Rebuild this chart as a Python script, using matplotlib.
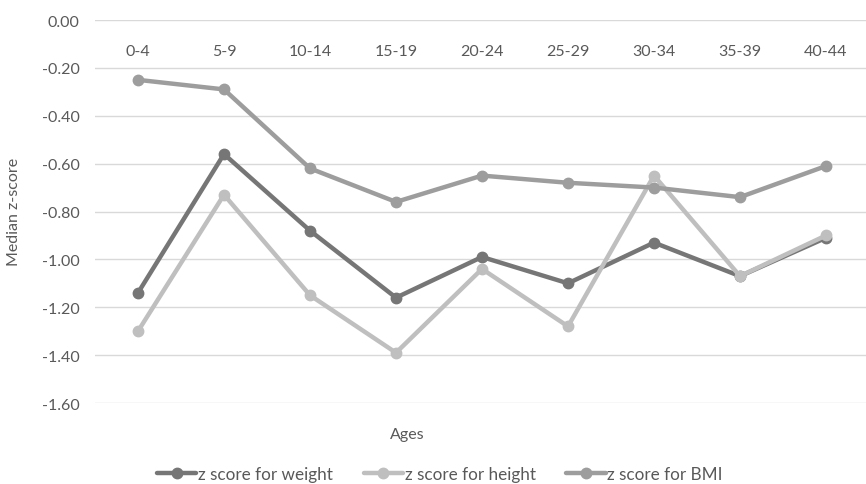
import matplotlib
matplotlib.use("Agg")
import matplotlib.pyplot as plt

categories = ["0-4", "5-9", "10-14", "15-19", "20-24", "25-29", "30-34", "35-39", "40-44"]
weight = [-1.14, -0.56, -0.88, -1.16, -0.99, -1.10, -0.93, -1.07, -0.91]
height = [-1.30, -0.73, -1.15, -1.39, -1.04, -1.28, -0.65, -1.07, -0.90]
bmi = [-0.25, -0.29, -0.62, -0.76, -0.65, -0.68, -0.70, -0.74, -0.61]
yticks = [0.0, -0.2, -0.4, -0.6, -0.8, -1.0, -1.2, -1.4, -1.6]

plt.rcParams['font.family'] = ['Lato', 'DejaVu Sans']
W, H = 866, 485
fig = plt.figure(figsize=(W / 100, H / 100), dpi=100)
x0, x1 = 95, 869
ytop, ybot = 21, 404
ax = fig.add_axes([x0 / W, 1 - ybot / H, (x1 - x0) / W, (ybot - ytop) / H])

txt = "#595959"
fs = 11.5
series = [("z score for weight", weight, "#767676"),
          ("z score for height", height, "#bfbfbf"),
          ("z score for BMI", bmi, "#9d9d9d")]
xs = list(range(len(categories)))
handles = []
for name, vals, col in series:
    h, = ax.plot(xs, vals, color=col, lw=3.2, marker="o", ms=7.5, label=name,
                 solid_capstyle="round", zorder=3, clip_on=False)
    handles.append(h)

ax.set_xlim(-0.5, len(categories) - 0.5)
ax.set_ylim(-1.6, 0.0)
ax.set_yticks(yticks)
ax.set_yticklabels([f"{v:.2f}" for v in yticks], color=txt, fontsize=fs)
ax.tick_params(axis="y", length=0, pad=11)
ax.grid(axis="y", color="#d9d9d9", lw=1)
ax.set_axisbelow(True)
for s in ax.spines.values():
    s.set_visible(False)
ax.set_xticks([])
for i, c in enumerate(categories):
    ax.text(i, -0.13, c, ha="center", va="center", color=txt, fontsize=fs)

fig.text(14 / W, 1 - 212 / H, "Median z-score", rotation=90, ha="center", va="center",
         color=txt, fontsize=fs)
fig.text(407 / W, 1 - 435 / H, "Ages", ha="center", va="center", color=txt, fontsize=fs)

leg = fig.legend(handles=handles, loc="center", bbox_to_anchor=(440 / W, 1 - 475 / H),
                 ncol=3, frameon=False, fontsize=12.3, handlelength=2.3,
                 handletextpad=0.1, columnspacing=1.8, labelcolor=txt)

fig.savefig("out.png", dpi=100)
